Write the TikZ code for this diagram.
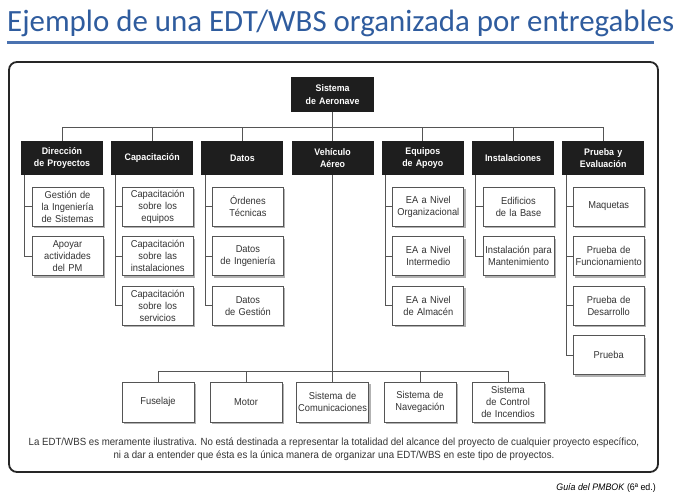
\documentclass[tikz,border=0pt]{standalone}
\usepackage{fontspec}
\setmainfont{Liberation Sans}[FakeStretch=0.93]
\newfontfamily\titlefont{Carlito}
\usetikzlibrary{shadows,calc}
\definecolor{titleblue}{HTML}{2F5C9E}
\definecolor{lineblue}{HTML}{4A72B0}
\definecolor{boxblack}{HTML}{1E1E1E}
\definecolor{linegray}{HTML}{555555}
\definecolor{txtgray}{HTML}{333333}
\tikzset{
  headbox/.style={fill=boxblack, text=white, font=\fontsize{9.5}{12.5}\selectfont\bfseries,
    text width=80pt, inner sep=1pt, minimum height=34pt, align=center},
  leafbox/.style={draw=linegray, fill=white, line width=0.8pt, text=txtgray,
    text width=70pt, inner sep=0.5pt, minimum height=39pt, align=center,
    font=\fontsize{10}{12}\selectfont,
    drop shadow={shadow xshift=2pt, shadow yshift=-2pt, fill=black!30, opacity=1}},
  lowbox/.style={leafbox, text width=71pt, minimum height=40pt},
  conn/.style={draw=linegray, line width=0.8pt}
}
\begin{document}
\begin{tikzpicture}[x=1pt,y=-1pt]
\useasboundingbox (0,0) rectangle (678,494);
% title
\node[anchor=base west, inner sep=0, text=titleblue, font=\titlefont\fontsize{30.9}{32}\selectfont] (title) at (7,32) {Ejemplo de una EDT/WBS organizada por entregables};
\draw[lineblue, line width=3pt] (7,43) -- (654,43);
% frame
\draw[line width=1.8pt, rounded corners=8pt, draw=black!85] (9,62) rectangle (658,472);
% root
\node[headbox, text width=81pt, minimum height=35pt] (root) at (332.6,94.5) {Sistema\\de Aeronave};
% level 2
\node[headbox] (d1) at (62,158) {Dirección\\de Proyectos};
\node[headbox] (d2) at (152.2,158) {Capacitación};
\node[headbox] (d3) at (242.4,158) {Datos};
\node[headbox] (d4) at (332.6,158) {Vehículo\\Aéreo};
\node[headbox] (d5) at (422.8,158) {Equipos\\de Apoyo};
\node[headbox] (d6) at (513,158) {Instalaciones};
\node[headbox] (d7) at (603.2,158) {Prueba y\\Evaluación};
% bus
\coordinate (busL) at (62,127);
\coordinate (busR) at (603.2,127);
\draw[conn] (busL) -- (busR);
\draw[conn] (root.south) -- (d4.north);
\foreach \n in {d1,d2,d3,d5,d6,d7} \draw[conn] (\n.north) -- (\n.north |- busL);
% children
\node[leafbox] (a1) at (67.5,206.5) {Gestión de\\la Ingeniería\\de Sistemas};
\node[leafbox] (a2) at (67.5,256.1) {Apoyar\\actividades\\del PM};
\node[leafbox] (b1) at (157.7,206.5) {Capacitación\\sobre los\\equipos};
\node[leafbox] (b2) at (157.7,256.1) {Capacitación\\sobre las\\instalaciones};
\node[leafbox] (b3) at (157.7,305.7) {Capacitación\\sobre los\\servicios};
\node[leafbox] (c1) at (247.9,206.5) {Órdenes\\Técnicas};
\node[leafbox] (c2) at (247.9,256.1) {Datos\\de Ingeniería};
\node[leafbox] (c3) at (247.9,305.7) {Datos\\de Gestión};
\node[leafbox] (e1) at (428.3,206.5) {EA a Nivel\\Organizacional};
\node[leafbox] (e2) at (428.3,256.1) {EA a Nivel\\Intermedio};
\node[leafbox] (e3) at (428.3,305.7) {EA a Nivel\\de Almacén};
\node[leafbox] (f1) at (518.5,206.5) {Edificios\\de la Base};
\node[leafbox] (f2) at (518.5,256.1) {Instalación para\\Mantenimiento};
\node[leafbox] (g1) at (608.7,206.5) {Maquetas};
\node[leafbox] (g2) at (608.7,256.1) {Prueba de\\Funcionamiento};
\node[leafbox] (g3) at (608.7,305.7) {Prueba de\\Desarrollo};
\node[leafbox] (g4) at (608.7,355.3) {Prueba};
\foreach \p/\c in {d1/a1,d1/a2,d2/b1,d2/b2,d2/b3,d3/c1,d3/c2,d3/c3,d5/e1,d5/e2,d5/e3,d6/f1,d6/f2,d7/g1,d7/g2,d7/g3,d7/g4}
  \draw[conn] ([xshift=4pt]\p.south west) |- (\c.west);
% bottom row
\node[lowbox] (v1) at (158,402) {Fuselaje};
\node[lowbox] (v2) at (246,402) {Motor};
\node[lowbox] (v3) at (332.6,402) {Sistema de\\Comunicaciones};
\node[lowbox] (v4) at (420,402) {Sistema de\\Navegación};
\node[lowbox] (v5) at (508,402) {Sistema\\de Control\\de Incendios};
\coordinate (bbus) at (0,371);
\draw[conn] (d4.south) -- (d4.south |- bbus);
\draw[conn] (v1.north |- bbus) -- (v5.north |- bbus);
\foreach \n in {v1,v2,v3,v4,v5} \draw[conn] (\n.north) -- (\n.north |- bbus);
% note
\node[align=center, text=txtgray, font=\fontsize{10.4}{12.5}\selectfont] (note) at (334,449) {La EDT/WBS es meramente ilustrativa. No está destinada a representar la totalidad del alcance del proyecto de cualquier proyecto específico,\\ni a dar a entender que ésta es la única manera de organizar una EDT/WBS en este tipo de proyectos.};
\node[anchor=base east, inner sep=0, font=\fontsize{9.5}{10}\selectfont] (src) at (656,490) {\textit{Guía del PMBOK} (6ª ed.)};
\end{tikzpicture}
\end{document}
